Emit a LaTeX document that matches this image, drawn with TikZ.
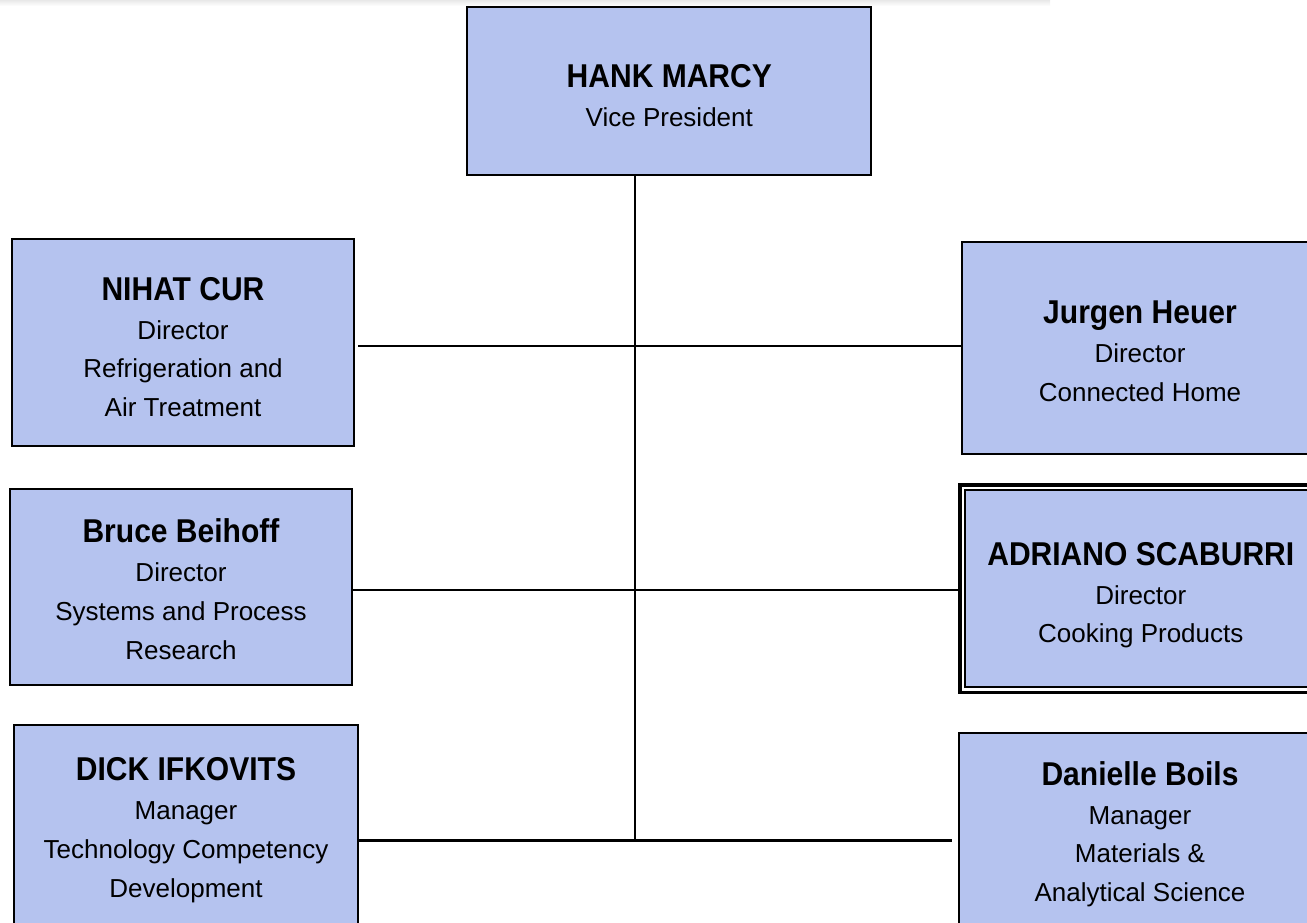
\documentclass[tikz,border=0pt]{standalone}
\usepackage{fontspec}
\setmainfont{Liberation Sans}
\newfontfamily\namefont{Liberation Sans}[FakeStretch=0.91]
\usetikzlibrary{calc}
\definecolor{boxblue}{HTML}{B5C3EF}
\newcommand{\nm}[1]{{\namefont\bfseries\fontsize{24.75pt}{29.1pt}\selectfont\rule{0pt}{22.5pt}#1}}
\tikzset{
  orgbox/.style={draw=black, fill=boxblue, line width=1.7pt, inner sep=0pt, outer sep=0.85pt},
  orgtext/.style={anchor=north, inner sep=0pt, align=center, text=black,
     font=\fontsize{19.5pt}{29.1pt}\selectfont},
  conn/.style={draw=black, line width=1.7pt}
}
\begin{document}
\begin{tikzpicture}[x=0.75pt, y=-0.75pt]
\useasboundingbox (0,0) rectangle (1307,922);
\clip (0,0) rectangle (1307,922);
\shade[top color=black!9, bottom color=white] (0,0) rectangle (1050,6);

% boxes
\node[orgbox, minimum width=303pt, minimum height=126pt] (hank) at (669.3,91.3) {};
\node[orgbox, minimum width=256.5pt, minimum height=155.25pt] (nihat) at (183,342.5) {};
\node[orgbox, minimum width=275.8pt, minimum height=158.85pt] (jurgen) at (1146.2,347.9) {};
\node[orgbox, minimum width=256.65pt, minimum height=147pt] (bruce) at (181.1,587) {};
\node[draw=black, fill=white, line width=2.5pt, inner sep=0pt, outer sep=1.25pt,
      minimum width=277.5pt, minimum height=155.6pt] (adriano) at (1145,588.75) {};
\draw[fill=boxblue, line width=1.5pt] ($(adriano.north west)+(6.2,6.5)$) rectangle ($(adriano.south east)+(0,-7.2)$);
\node[orgbox, minimum width=258pt, minimum height=176.25pt] (dick) at (186,842.5) {};
\node[orgbox, minimum width=278.5pt, minimum height=170pt] (danielle) at (1144.35,846.65) {};

% connectors
\coordinate (spinebot) at (634.7,840.5);
\coordinate (r1) at (0,346.3);
\coordinate (r2) at (0,590.2);
\coordinate (r3) at (0,840.5);
\draw[conn] (hank.south -| spinebot) -- (spinebot);
\draw[conn] ($(nihat.east |- r1)+(3,0)$) -- (jurgen.west |- r1);
\draw[conn] (bruce.east |- r2) -- (adriano.west |- r2);
\draw[conn] (dick.east |- r3) -- ($(danielle.west |- r3)+(-5.5,0)$);

% texts
\node[orgtext] (hankt) at (669.3,57.3) {\nm{HANK MARCY}\\Vice President};
\node[orgtext] (nihatt) at (183,270) {\nm{NIHAT CUR}\\Director\\Refrigeration and\\Air Treatment};
\node[orgtext] (jurgent) at (1140,293.5) {\nm{Jurgen Heuer}\\Director\\Connected Home};
\node[orgtext] (brucet) at (181,512.5) {\nm{Bruce Beihoff}\\Director\\Systems and Process\\Research};
\node[orgtext] (adrianot) at (1140.8,535) {\nm{ADRIANO SCABURRI}\\Director\\Cooking Products};
\node[orgtext] (dickt) at (186,750.7) {\nm{DICK IFKOVITS}\\Manager\\Technology Competency\\Development};
\node[orgtext] (daniellet) at (1140,755) {\nm{Danielle Boils}\\Manager\\Materials \&\\Analytical Science};
\end{tikzpicture}
\end{document}
